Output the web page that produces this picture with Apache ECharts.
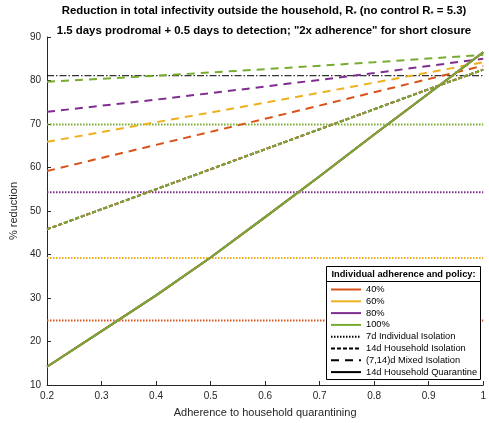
<!DOCTYPE html>
<html>
<head>
<meta charset="utf-8">
<script src="https://cdn.jsdelivr.net/npm/echarts@6/dist/echarts.min.js"></script>
<style>
  html, body { margin: 0; padding: 0; background: #fff; }
  #chart { width: 489px; height: 423px; }
</style>
</head>
<body>
<div id="chart"></div>
<script>
// Household quarantine adherence (x axis)
const adherence = [0.2, 0.3, 0.4, 0.5, 0.6, 0.7, 0.8, 0.9, 1.0];
const adherenceMixed = [0.2, 0.4, 0.6, 0.8, 1.0];

// Individual adherence levels and their colours
const levels = ['40%', '60%', '80%', '100%'];
const levelColors = ['#D95319', '#EDB120', '#7E2F8E', '#77AC30'];

// 7d individual isolation: flat, independent of household adherence
const individualIsolation = [24.8, 39.2, 54.3, 69.9];

// (7,14)d mixed isolation, per individual adherence level
const mixed40 = [59.2, 65.2, 71.2, 77.3, 83.4];
const mixed60 = [65.9, 70.4, 74.9, 79.5, 84.2];
const mixed80 = [72.8, 75.6, 78.6, 81.7, 85.0];
const mixed100 = [79.7, 81.1, 82.6, 84.2, 85.9];

// 14d household isolation (same for every individual adherence level)
const householdIsolation = [45.8, 50.4, 55.0, 59.6, 64.2, 68.8, 73.4, 78.0, 82.5];

// 14d household quarantine (same for every individual adherence level)
const householdQuarantine = [14.2, 22.4, 30.6, 39.3, 48.6, 58.0, 67.6, 77.0, 86.5];

// Reduction needed to bring R below 1 (no control R* = 5.3)
const threshold = 81.1;

const xTicks = { min: 0.2, max: 1, interval: 0.1 };
const yTicks = { min: 10, max: 90, interval: 10 };

const DOT = [1.5, 1.5];
const SHORT_DASH = [4, 2];
const LONG_DASH = [8, 6];
const DASH_DOT = [7, 2, 1.5, 2];

const pairs = (xs, ys) => xs.map((x, i) => [x, ys[i]]);

const series = [];

// threshold line
series.push({
  name: 'threshold', type: 'line', symbol: 'none', silent: true,
  data: [[xTicks.min, threshold], [xTicks.max, threshold]],
  lineStyle: { color: '#000', width: 1, type: DASH_DOT }, z: 2
});

// individual isolation (dotted)
levels.forEach((lv, i) => {
  series.push({
    name: 'ind-' + lv, type: 'line', symbol: 'none',
    data: [[xTicks.min, individualIsolation[i]], [xTicks.max, individualIsolation[i]]],
    lineStyle: { color: levelColors[i], width: 2, type: DOT }, z: 3
  });
});

// mixed isolation (long dashes)
[mixed40, mixed60, mixed80, mixed100].forEach((vals, i) => {
  series.push({
    name: 'mix-' + levels[i], type: 'line', symbol: 'none',
    data: pairs(adherenceMixed, vals),
    lineStyle: { color: levelColors[i], width: 2, type: LONG_DASH }, z: 3
  });
});

// household isolation (short dashes)
levels.forEach((lv, i) => {
  series.push({
    name: 'hiso-' + lv, type: 'line', symbol: 'none',
    data: pairs(adherence, householdIsolation),
    lineStyle: { color: levelColors[i], width: 2, type: SHORT_DASH }, z: 4
  });
});

// household quarantine (solid)
levels.forEach((lv, i) => {
  series.push({
    name: 'hq-' + lv, type: 'line', symbol: 'none',
    data: pairs(adherence, householdQuarantine),
    lineStyle: { color: levelColors[i], width: 2, type: 'solid' }, z: 5
  });
});

// legend keys
const legendKeys = [];
levels.forEach((lv, i) => {
  series.push({ name: lv, type: 'line', symbol: 'none', data: [],
    lineStyle: { color: levelColors[i], width: 2, type: 'solid' }, itemStyle: { color: levelColors[i] } });
  legendKeys.push(lv);
});
const policyKeys = [
  ['7d Individual Isolation', DOT],
  ['14d Household Isolation', SHORT_DASH],
  ['(7,14)d Mixed Isolation', LONG_DASH],
  ['14d Household Quarantine', 'solid']
];
policyKeys.forEach(([name, type]) => {
  series.push({ name, type: 'line', symbol: 'none', data: [],
    lineStyle: { color: '#000', width: 2, type }, itemStyle: { color: '#000' } });
  legendKeys.push(name);
});

const axisColor = '#262626';
const font = 'Liberation Sans, Arial, Helvetica, sans-serif';

const chart = echarts.init(document.getElementById('chart'), null, { renderer: 'canvas' });
chart.setOption({
  animation: false,
  backgroundColor: '#fff',
  textStyle: { fontFamily: font },
  title: [
    {
      text: 'Reduction in total infectivity outside the household, R{s|*} (no control R{s|*} = 5.3)',
      left: 259, top: -1, textAlign: 'center',
      textStyle: {
        fontSize: 11.4, fontWeight: 'bold', color: '#000', fontFamily: font,
        rich: { s: { fontSize: 8, fontWeight: 'bold', color: '#000', padding: [6, 0, 0, 0] } }
      }
    },
    {
      text: '1.5 days prodromal + 0.5 days to detection; "2x adherence" for short closure',
      left: 259, top: 20, textAlign: 'center',
      textStyle: { fontSize: 11.4, fontWeight: 'bold', color: '#000', fontFamily: font }
    }
  ],
  grid: { left: 40, right: 1, top: 37, bottom: 35, containLabel: false },
  xAxis: {
    type: 'value', min: xTicks.min, max: xTicks.max, interval: xTicks.interval,
    name: 'Adherence to household quarantining', nameLocation: 'middle', nameGap: 22,
    nameTextStyle: { fontSize: 11, color: axisColor },
    axisLine: { lineStyle: { color: axisColor, width: 1 } },
    axisTick: { inside: true, length: 4, lineStyle: { color: axisColor } },
    axisLabel: { fontSize: 10, color: axisColor, margin: 6 },
    splitLine: { show: false }
  },
  yAxis: {
    type: 'value', min: yTicks.min, max: yTicks.max, interval: yTicks.interval,
    name: '% reduction', nameLocation: 'middle', nameGap: 26, nameRotate: 90,
    nameTextStyle: { fontSize: 11, color: axisColor },
    axisLine: { show: true, lineStyle: { color: axisColor, width: 1 } },
    axisTick: { show: true, inside: true, length: 4, lineStyle: { color: axisColor } },
    axisLabel: { fontSize: 10, color: axisColor, margin: 6 },
    splitLine: { show: false }
  },
  legend: {
    data: legendKeys, orient: 'vertical', left: 330, top: 285,
    itemWidth: 30, itemHeight: 8, itemGap: 2.8, padding: 0,
    itemStyle: { opacity: 0 },
    textStyle: { fontSize: 9.3, color: '#000' },
    selectedMode: false, z: 60
  },
  graphic: [
    { type: 'rect', z: 50, shape: { x: 326.5, y: 266.5, width: 154, height: 113 },
      style: { fill: '#fff', stroke: '#000', lineWidth: 1 } },
    { type: 'line', z: 51, shape: { x1: 326.5, y1: 281.5, x2: 480.5, y2: 281.5 },
      style: { stroke: '#000', lineWidth: 1 } },
    { type: 'text', z: 52, x: 403.5, y: 274,
      style: { text: 'Individual adherence and policy:', fontSize: 9.3, fontWeight: 'bold',
        fill: '#000', align: 'center', verticalAlign: 'middle', font: 'bold 9.3px ' + font } }
  ],
  series
});
</script>
</body>
</html>
